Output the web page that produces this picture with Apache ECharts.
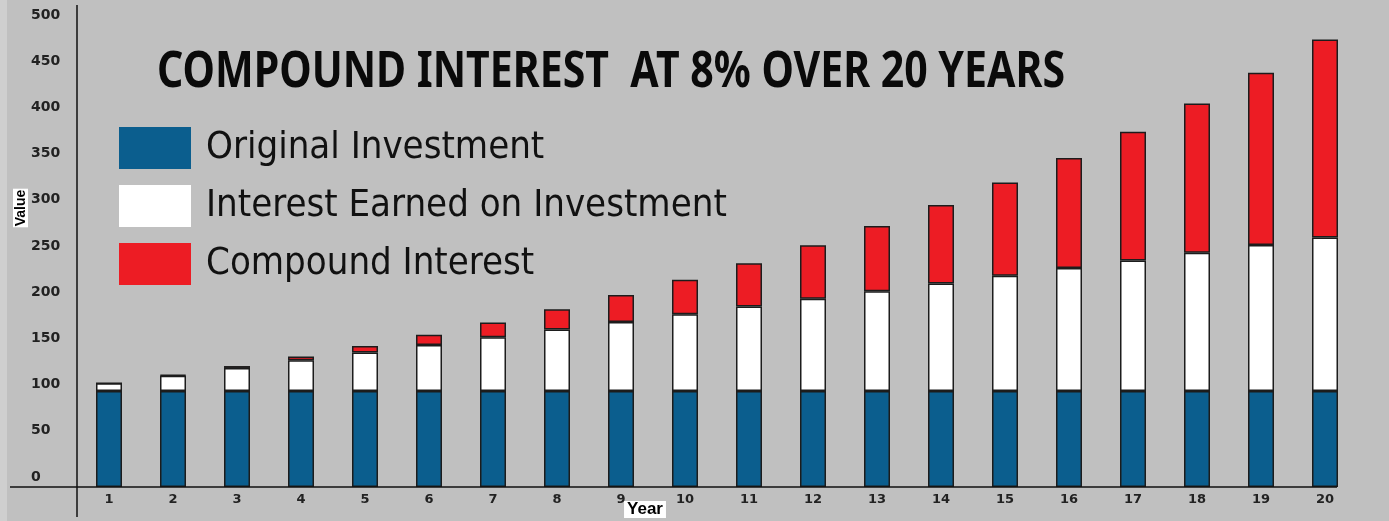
<!DOCTYPE html>
<html><head><meta charset="utf-8">
<script src="https://cdn.jsdelivr.net/npm/echarts@6/dist/echarts.min.js"></script>
<style>html,body{margin:0;padding:0;background:#c0c0c0}#c{width:1389px;height:521px}</style>
</head><body><div id="c"></div>
<script>
const years = ['1','2','3','4','5','6','7','8','9','10','11','12','13','14','15','16','17','18','19','20'];
const originalInvestment = [100,100,100,100,100,100,100,100,100,100,100,100,100,100,100,100,100,100,100,100];
const interestEarned = [8,16,24,32,40,48,56,64,72,80,88,96,104,112,120,128,136,144,152,160];
const compoundInterest = [0,0.6,2.0,4.0,6.9,10.7,15.4,21.1,27.9,35.9,45.2,55.8,68.0,81.7,97.2,114.6,134.0,155.6,179.6,206.1];
const seriesNames = ['Original Investment','Interest Earned on Investment','Compound Interest'];
const seriesColors = ['#0b5e8e','#ffffff','#ed1c24'];
const titleText = 'COMPOUND INTEREST  AT 8% OVER 20 YEARS';

const chart = echarts.init(document.getElementById('c'), null, {renderer:'canvas'});

const titleFont = 'bold 51px "Noto Sans", "Open Sans", sans-serif';
const cv = document.createElement('canvas').getContext('2d');
cv.font = titleFont;
const titleScale = 908 / cv.measureText(titleText).width;

const labelFont = {fontFamily:'"DejaVu Sans", sans-serif', fontWeight:'bold', fontSize:14, color:'#222'};
const barStyle = (c) => ({color:c, borderColor:'#1c1c1c', borderWidth:1.5});
const data = [originalInvestment, interestEarned, compoundInterest];

chart.setOption({
  animation:false,
  backgroundColor:'#c0c0c0',
  grid:[
    {left:77, right:32, top:7, bottom:34, outerBoundsMode:'none', containLabel:false},
    {left:77, right:32, top:15, bottom:44, outerBoundsMode:'none', containLabel:false}
  ],
  legend:{
    orient:'vertical', left:119, top:127, padding:0, itemWidth:72, itemHeight:42, itemGap:16,
    icon:'rect', itemStyle:{borderWidth:0},
    textStyle:{fontFamily:'"Liberation Sans Narrow","DejaVu Sans Condensed",sans-serif', fontSize:38, color:'#111', padding:[0,0,0,10]},
    data:seriesNames, selectedMode:false
  },
  xAxis:[
    {type:'category', gridIndex:0, data:years, boundaryGap:true,
     axisLine:{show:false}, axisTick:{show:false},
     axisLabel:Object.assign({margin:6}, labelFont, {fontSize:13}),
     name:'{y|Year}', nameLocation:'middle', nameGap:14, nameMoveOverlap:false,
     nameTextStyle:{padding:[0,144,0,0], rich:{y:{backgroundColor:'#fff', color:'#000', fontWeight:'bold', fontSize:17, fontFamily:'"Liberation Sans", Arial, sans-serif', padding:[0,3,0,3]}}}
    },
    {type:'value', gridIndex:1, show:false, min:0, max:1}
  ],
  yAxis:[
    {type:'value', gridIndex:0, min:0, max:500, show:false, splitLine:{show:false}},
    {type:'value', gridIndex:1, min:0, max:500, interval:50,
     axisLine:{show:false}, axisTick:{show:false}, splitLine:{show:false},
     axisLabel:Object.assign({align:'left', margin:46}, labelFont),
     name:'{v|Value}', nameLocation:'middle', nameRotate:90, nameGap:49, nameMoveOverlap:false,
     nameTextStyle:{padding:[0,0,0,76], rich:{v:{backgroundColor:'#fff', color:'#000', fontWeight:'bold', fontSize:14, fontFamily:'"Liberation Sans", Arial, sans-serif', padding:[1,1,0,1]}}}
    }
  ],
  series: seriesNames.map((n,i)=>({
    name:n, type:'bar', stack:'total', xAxisIndex:0, yAxisIndex:0,
    barWidth:26, data:data[i], itemStyle:barStyle(seriesColors[i])
  })),
  graphic:[
    {type:'rect', shape:{x:0,y:0,width:7,height:521}, style:{fill:'#cfcfcf'}, z:-1},
    {type:'line', shape:{x1:10,y1:487,x2:1337,y2:487}, style:{stroke:'#111', lineWidth:1.5}, z:100},
    {type:'line', shape:{x1:77,y1:5,x2:77,y2:517}, style:{stroke:'#111', lineWidth:1.5}, z:100},
    {type:'text', x:157, y:72, scaleX:titleScale, scaleY:1,
     style:{text:titleText, font:titleFont, fill:'#0a0a0a', textAlign:'left', textVerticalAlign:'middle'}, z:100}
  ]
});
</script></body></html>
